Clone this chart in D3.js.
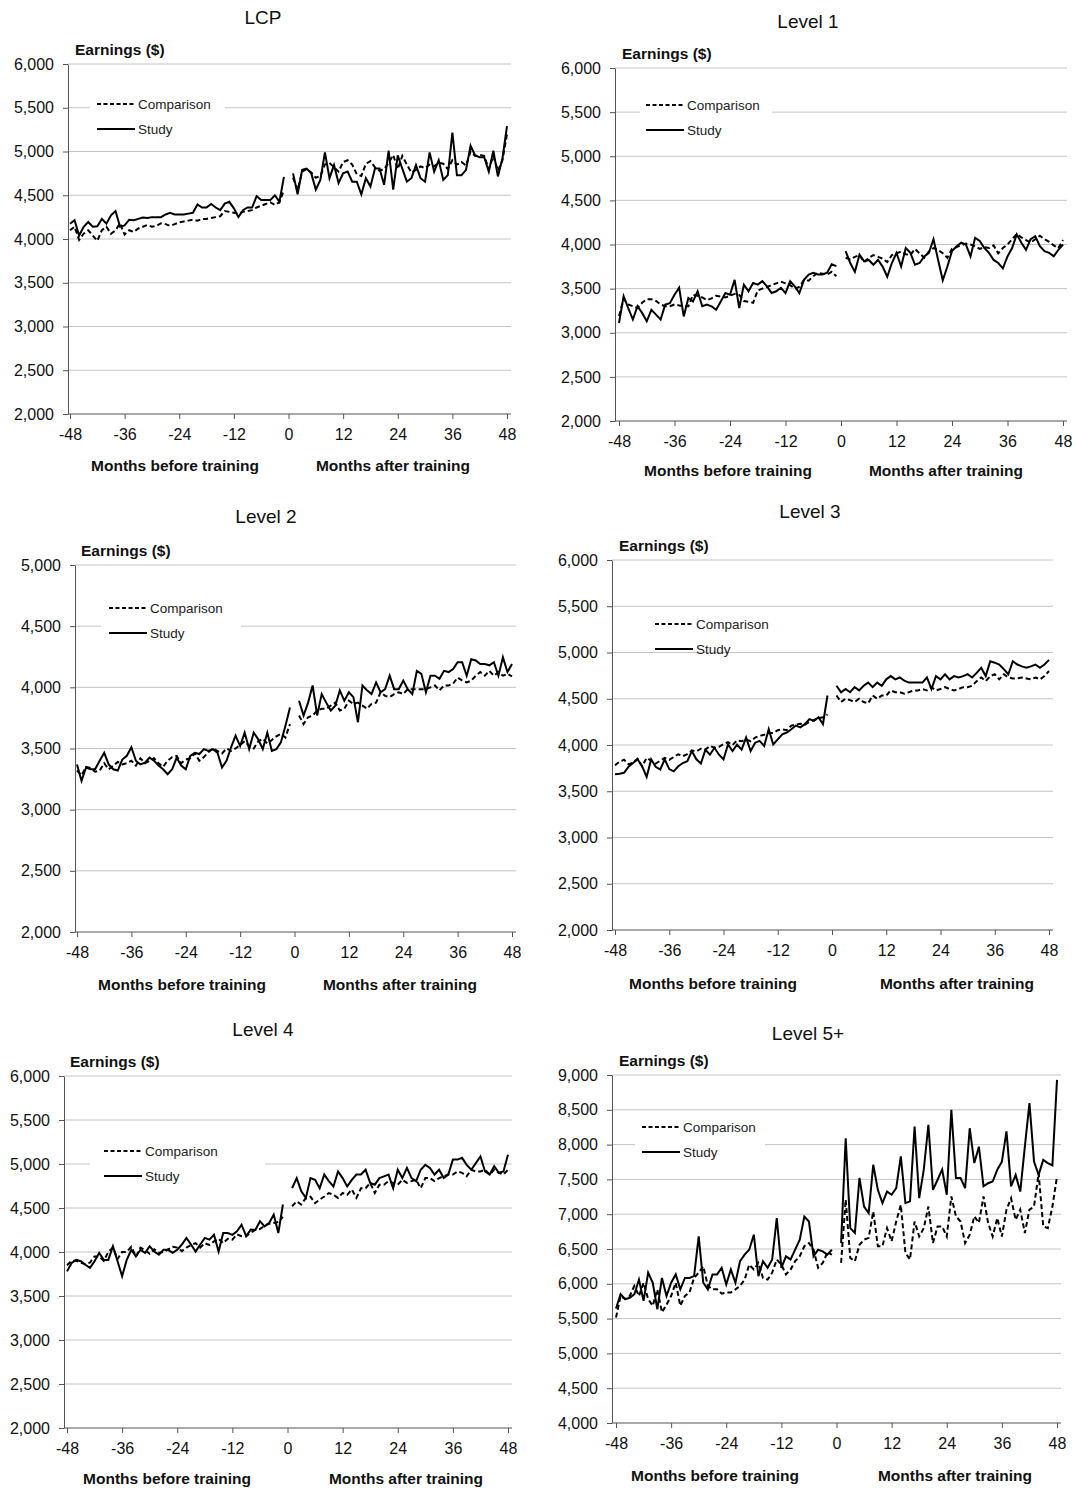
<!DOCTYPE html>
<html>
<head>
<meta charset="utf-8">
<script src="https://cdn.jsdelivr.net/npm/d3@7"></script>
<style>
  body { margin: 0; background: #fff; }
  svg { display: block; font-family: "Liberation Sans", Arial, sans-serif; }
</style>
</head>
<body>
<svg id="chart" width="1078" height="1490"></svg>
<script>
// months on the x axis (gap at 0 = training)
const PRE_MONTHS = [-48,-47,-46,-45,-44,-43,-42,-41,-40,-39,-38,-37,-36,-35,-34,-33,-32,-31,-30,-29,-28,-27,-26,-25,
  -24,-23,-22,-21,-20,-19,-18,-17,-16,-15,-14,-13,-12,-11,-10,-9,-8,-7,-6,-5,-4,-3,-2,-1]
const POST_MONTHS = [1,2,3,4,5,6,7,8,9,10,11,12,13,14,15,16,17,18,19,20,21,22,23,24,
  25,26,27,28,29,30,31,32,33,34,35,36,37,38,39,40,41,42,43,44,45,46,47,48]
const X_TICKS = [-48, -36, -24, -12, 0, 12, 24, 36, 48]
const Y_TICKS_6000 = [2000, 2500, 3000, 3500, 4000, 4500, 5000, 5500, 6000]
const Y_TICKS_5000 = [2000, 2500, 3000, 3500, 4000, 4500, 5000]
const Y_TICKS_9000 = [4000, 4500, 5000, 5500, 6000, 6500, 7000, 7500, 8000, 8500, 9000]

// LCP
const lcpStudyPre = [4175,4215,4040,4140,4195,4140,4145,4230,4175,4270,4320,4140,4155,4220,4215,4230,4245,4240,4250,4250,4250,4280,4300,4280,
  4280,4280,4290,4300,4395,4360,4360,4400,4360,4330,4405,4425,4350,4250,4330,4360,4360,4490,4445,4445,4445,4500,4425,4710]
const lcpCompPre = [4100,4140,3990,4060,4100,4040,3980,4100,4140,4060,4100,4180,4050,4100,4080,4120,4140,4160,4140,4150,4180,4170,4150,4170,
  4190,4200,4210,4220,4210,4230,4230,4240,4250,4260,4320,4310,4300,4290,4310,4320,4330,4360,4380,4400,4420,4390,4420,4560]
const lcpStudyPost = [4750,4510,4790,4805,4750,4565,4675,4990,4695,4845,4640,4750,4770,4655,4655,4510,4695,4600,4805,4805,4620,5010,4565,4955,
  4805,4655,4695,4845,4695,4655,4990,4770,4900,4675,4730,5215,4730,4730,4790,5065,4955,4935,4935,4770,5010,4715,4920,5290]
const lcpCompPost = [4700,4560,4770,4800,4760,4700,4720,4850,4870,4820,4770,4880,4900,4850,4740,4720,4860,4890,4820,4780,4800,4870,4960,4800,
  4950,4850,4760,4790,4830,4810,4850,4830,4870,4860,4800,4900,4850,4880,4840,5000,4950,4960,4950,4800,4950,4780,4900,5200]

// Level 1
const l1StudyPre = [3110,3415,3280,3150,3300,3225,3130,3260,3205,3150,3320,3335,3430,3510,3185,3395,3355,3470,3300,3320,3300,3260,3355,3450,
  3430,3600,3280,3545,3470,3565,3545,3585,3525,3450,3470,3510,3450,3585,3525,3450,3600,3660,3680,3660,3660,3680,3775,3755]
const l1CompPre = [3190,3380,3320,3300,3280,3340,3380,3380,3360,3320,3300,3300,3320,3310,3300,3300,3430,3420,3400,3370,3390,3420,3410,3400,
  3420,3440,3430,3360,3350,3340,3480,3500,3520,3540,3560,3580,3560,3540,3500,3520,3600,3590,3640,3680,3670,3660,3690,3640]
const l1StudyPost = [3925,3790,3690,3885,3810,3825,3770,3825,3750,3635,3790,3905,3750,3960,3905,3770,3790,3865,3905,4060,3825,3595,3750,3925,
  3980,4020,4000,3865,4075,4040,3960,3905,3825,3790,3730,3865,3960,4115,4020,3940,4060,4095,3980,3925,3905,3865,3940,4000]
const l1CompPost = [3850,3830,3860,3880,3800,3850,3880,3860,3840,3800,3880,3900,3920,3890,3880,3950,3900,3850,3920,3960,3940,3900,3850,3950,
  3970,3990,4010,4000,3980,3950,3970,3960,3990,3900,3960,4000,4060,4120,4080,4050,4020,4060,4100,4060,4030,3990,3960,4050]

// Level 2
const l2StudyPre = [3370,3235,3345,3330,3330,3400,3465,3370,3330,3320,3410,3440,3510,3400,3370,3385,3425,3400,3360,3330,3290,3330,3425,3360,
  3330,3440,3465,3455,3495,3480,3495,3465,3345,3400,3510,3605,3520,3630,3495,3630,3575,3495,3630,3480,3495,3550,3685,3835]
const l2CompPre = [3320,3280,3350,3340,3310,3320,3380,3330,3360,3390,3370,3380,3400,3360,3420,3380,3400,3420,3380,3350,3400,3430,3440,3380,
  3410,3420,3460,3400,3430,3470,3500,3480,3460,3500,3480,3500,3530,3560,3520,3500,3560,3580,3540,3570,3600,3620,3590,3700]
const l2StudyPost = [3890,3770,3875,4015,3770,3945,3875,3810,3850,3975,3890,3960,3920,3715,4015,3975,3945,4040,3960,3985,4095,3985,3985,4055,
  3985,3945,4135,4110,3960,4095,4095,4070,4135,4125,4150,4205,4205,4095,4230,4220,4190,4190,4180,4205,4095,4245,4125,4190]
const l2CompPost = [3770,3700,3755,3770,3810,3825,3825,3850,3875,3810,3825,3890,3865,3875,3850,3825,3865,3875,3960,3930,3920,3945,3960,3945,
  3985,3985,3985,3985,3985,4000,4015,3975,4015,4015,4030,4080,4055,4040,4055,4095,4125,4095,4135,4095,4125,4095,4110,4090]

// Level 3
const l3StudyPre = [3685,3690,3700,3765,3805,3845,3770,3655,3845,3765,3735,3845,3740,3715,3770,3805,3825,3935,3845,3800,3950,3895,3970,3895,
  3845,4005,3935,4005,3950,4080,3935,4025,4045,3990,4170,4005,4060,4115,4135,4170,4210,4190,4225,4280,4260,4300,4225,4535]
const l3CompPre = [3780,3820,3840,3790,3810,3850,3770,3860,3830,3800,3830,3860,3840,3870,3900,3880,3900,3940,3930,3960,3950,3990,3970,3980,
  4010,4030,4000,4050,4040,4060,4040,4080,4100,4110,4130,4130,4160,4170,4160,4210,4220,4230,4220,4250,4270,4290,4300,4330]
const l3StudyPost = [4640,4570,4605,4570,4625,4590,4640,4675,4625,4675,4640,4710,4745,4710,4730,4695,4675,4675,4675,4675,4730,4605,4745,4710,
  4765,4710,4745,4730,4745,4765,4730,4780,4835,4745,4905,4890,4870,4820,4765,4905,4870,4850,4835,4850,4870,4835,4870,4920]
const l3CompPost = [4535,4465,4500,4485,4465,4500,4465,4450,4535,4500,4535,4535,4590,4570,4570,4555,4570,4590,4590,4605,4590,4625,4590,4605,
  4625,4605,4590,4605,4625,4625,4640,4690,4730,4690,4745,4765,4710,4765,4730,4720,4720,4730,4720,4710,4730,4710,4745,4800]

// Level 4
const l4StudyPre = [3780,3875,3910,3895,3855,3820,3895,3990,3910,3910,4065,3895,3725,3910,4025,3950,4025,3990,4065,4005,3970,4025,4025,3990,
  4025,4085,4160,4085,4005,4085,4160,4140,4195,4005,4215,4215,4195,4235,4310,4180,4255,4250,4350,4290,4330,4425,4215,4540]
const l4CompPre = [3850,3900,3900,3880,3860,3880,3950,3950,3900,4000,4050,3920,4000,4000,4060,3950,4050,4020,3980,4030,3990,4000,4030,4060,
  4050,4010,4050,4080,4100,4050,4100,4080,4120,4150,4100,4150,4140,4200,4180,4180,4220,4250,4260,4300,4320,4330,4340,4400]
const l4StudyPost = [4725,4840,4690,4615,4840,4820,4725,4880,4805,4745,4915,4840,4745,4820,4880,4880,4935,4785,4765,4840,4860,4880,4725,4935,
  4840,4955,4840,4805,4935,4990,4955,4880,4935,4840,4880,5050,5050,5070,4990,4935,5010,5085,4915,4880,4975,4900,4915,5105]
const l4CompPost = [4520,4575,4540,4615,4630,4555,4595,4630,4670,4650,4615,4670,4650,4710,4615,4725,4725,4785,4670,4765,4765,4805,4785,4765,
  4820,4785,4805,4820,4725,4840,4840,4805,4840,4860,4880,4880,4915,4900,4860,4935,4915,4915,4935,4880,4935,4900,4880,4935]

// Level 5+
const l5StudyPre = [5645,5850,5780,5800,5850,6060,5755,6160,6015,5635,6085,5825,6015,6135,5920,6085,6085,6110,6680,6015,5920,6135,6135,6230,
  5990,6205,6015,6325,6420,6490,6705,6110,6325,6230,6350,6945,6230,6395,6350,6490,6635,6965,6895,6395,6490,6465,6420,6490]
const l5CompPre = [5515,5825,5780,5825,5970,5825,6015,5780,5685,5920,5590,5700,5825,6015,5685,5825,5875,6085,6160,6250,5970,5920,5920,5860,
  5875,5875,5920,5970,6060,6275,6205,6300,6085,6060,6160,6350,6275,6135,6205,6325,6395,6540,6585,6490,6230,6300,6445,6420]
const l5StudyPost = [6585,8090,6800,6730,7520,7110,7015,7710,7350,7160,7325,7280,7375,7830,7160,7185,8260,7230,7640,8285,7350,7495,7640,7280,
  8500,7520,7520,7375,8235,7735,7970,7400,7445,7470,7640,7755,8190,7400,7565,7325,7970,8595,7755,7565,7780,7735,7700,8930]
const l5CompPost = [6300,7210,6370,6325,6560,6635,6660,7040,6540,6540,6800,6610,6895,7135,6445,6350,6895,6680,6800,7110,6585,6825,6825,6680,
  7255,6970,6895,6585,6705,6970,6875,7255,6875,6680,6945,6680,7065,7230,6920,7065,6730,7065,7110,7590,6825,6800,7110,7540]

const panels = [
  { title: 'LCP', yTicks: Y_TICKS_6000, comp: [lcpCompPre, lcpCompPost], study: [lcpStudyPre, lcpStudyPost],
    axisX: 68, x0: 70, x1: 507, right: 511, top: 64, bottom: 414,
    titleX: 263, titleY: 24, earnX: 75, earnY: 55, legX: 97, legY: 104, legGap: 90, legW: 135,
    xlabY: 471, beforeX: 175, afterX: 393 },
  { title: 'Level 1', yTicks: Y_TICKS_6000, comp: [l1CompPre, l1CompPost], study: [l1StudyPre, l1StudyPost],
    axisX: 615, x0: 619, x1: 1063, right: 1067, top: 68, bottom: 421,
    titleX: 808, titleY: 28, earnX: 622, earnY: 59, legX: 646, legY: 105, legGap: 640, legW: 132,
    xlabY: 476, beforeX: 728, afterX: 946 },
  { title: 'Level 2', yTicks: Y_TICKS_5000, comp: [l2CompPre, l2CompPost], study: [l2StudyPre, l2StudyPost],
    axisX: 75, x0: 77, x1: 512, right: 516, top: 565, bottom: 932,
    titleX: 266, titleY: 523, earnX: 81, earnY: 556, legX: 109, legY: 608, legGap: 101, legW: 140,
    xlabY: 990, beforeX: 182, afterX: 400 },
  { title: 'Level 3', yTicks: Y_TICKS_6000, comp: [l3CompPre, l3CompPost], study: [l3StudyPre, l3StudyPost],
    axisX: 612, x0: 615, x1: 1049, right: 1053, top: 560, bottom: 930,
    titleX: 810, titleY: 518, earnX: 619, earnY: 551, legX: 655, legY: 624, legGap: 646, legW: 140,
    xlabY: 989, beforeX: 713, afterX: 957 },
  { title: 'Level 4', yTicks: Y_TICKS_6000, comp: [l4CompPre, l4CompPost], study: [l4StudyPre, l4StudyPost],
    axisX: 64, x0: 67, x1: 508, right: 512, top: 1076, bottom: 1428,
    titleX: 263, titleY: 1036, earnX: 70, earnY: 1067, legX: 104, legY: 1151, legGap: 90, legW: 175,
    xlabY: 1484, beforeX: 167, afterX: 406 },
  { title: 'Level 5+', yTicks: Y_TICKS_9000, comp: [l5CompPre, l5CompPost], study: [l5StudyPre, l5StudyPost],
    axisX: 612, x0: 616, x1: 1057, right: 1061, top: 1075, bottom: 1423,
    titleX: 808, titleY: 1040, earnX: 619, earnY: 1066, legX: 642, legY: 1127, legGap: 635, legW: 130,
    xlabY: 1481, beforeX: 715, afterX: 955 }
]

const svg = d3.select('#chart')

panels.forEach(p => {
  const g = svg.append('g')
  const x = d3.scaleLinear().domain([-48, 48]).range([p.x0, p.x1])
  const y = d3.scaleLinear()
    .domain([p.yTicks[0], p.yTicks[p.yTicks.length - 1]])
    .range([p.bottom, p.top])

  // gridlines
  g.append('g').selectAll('line')
    .data(p.yTicks.slice(1))
    .enter().append('line')
    .attr('x1', p.axisX).attr('x2', p.right)
    .attr('y1', d => y(d)).attr('y2', d => y(d))
    .attr('stroke', '#c4c4c4').attr('stroke-width', 1)

  // y axis
  const yAxis = g.append('g')
    .attr('transform', `translate(${p.axisX},0)`)
    .call(d3.axisLeft(y).tickValues(p.yTicks).tickFormat(d3.format(',')).tickSize(5).tickPadding(9).tickSizeOuter(0))
  yAxis.select('.domain').attr('stroke', '#555')
  yAxis.selectAll('.tick line').attr('stroke', '#555')
  yAxis.selectAll('text').attr('font-size', 16).attr('fill', '#111')
    .attr('font-family', '"Liberation Sans", Arial, sans-serif')

  // x axis
  const xAxis = g.append('g')
    .attr('transform', `translate(0,${p.bottom})`)
    .call(d3.axisBottom(x).tickValues(X_TICKS).tickFormat(d => String(d)).tickSize(5).tickPadding(10))
  xAxis.select('.domain').remove()
  xAxis.selectAll('.tick line').attr('stroke', '#555')
  xAxis.selectAll('text').attr('font-size', 16).attr('fill', '#111')
    .attr('font-family', '"Liberation Sans", Arial, sans-serif')
  g.append('line')
    .attr('x1', p.axisX).attr('x2', p.right)
    .attr('y1', p.bottom).attr('y2', p.bottom)
    .attr('stroke', '#555')

  // series lines
  const line = d3.line().x(d => x(d[0])).y(d => y(d[1]))
  const months = [PRE_MONTHS, POST_MONTHS]
  ;[0, 1].forEach(k => {
    g.append('path')
      .datum(months[k].map((m, i) => [m, p.comp[k][i]]))
      .attr('fill', 'none').attr('stroke', '#000').attr('stroke-width', 2)
      .attr('stroke-dasharray', '5,3')
      .attr('d', line)
    g.append('path')
      .datum(months[k].map((m, i) => [m, p.study[k][i]]))
      .attr('fill', 'none').attr('stroke', '#000').attr('stroke-width', 2)
      .attr('d', line)
  })

  // legend
  const leg = g.append('g')
  leg.append('rect')
    .attr('x', p.legGap).attr('y', p.legY - 12)
    .attr('width', p.legW).attr('height', 40)
    .attr('fill', '#fff')
  const items = [{ name: 'Comparison', dash: '4,2.5' }, { name: 'Study', dash: null }]
  items.forEach((it, i) => {
    const yy = p.legY + i * 25
    leg.append('line')
      .attr('x1', p.legX).attr('x2', p.legX + 38)
      .attr('y1', yy).attr('y2', yy)
      .attr('stroke', '#000').attr('stroke-width', 2)
      .attr('stroke-dasharray', it.dash)
    leg.append('text')
      .attr('x', p.legX + 41).attr('y', yy + 5)
      .attr('font-size', 13.5).attr('fill', '#222')
      .text(it.name)
  })

  // titles and labels
  g.append('text')
    .attr('x', p.titleX).attr('y', p.titleY)
    .attr('text-anchor', 'middle').attr('font-size', 19).attr('fill', '#111')
    .text(p.title)
  g.append('text')
    .attr('x', p.earnX).attr('y', p.earnY)
    .attr('font-size', 15.5).attr('font-weight', 'bold').attr('fill', '#111')
    .text('Earnings ($)')
  g.append('text')
    .attr('x', p.beforeX).attr('y', p.xlabY)
    .attr('text-anchor', 'middle').attr('font-size', 15.5).attr('font-weight', 'bold').attr('fill', '#111')
    .text('Months before training')
  g.append('text')
    .attr('x', p.afterX).attr('y', p.xlabY)
    .attr('text-anchor', 'middle').attr('font-size', 15.5).attr('font-weight', 'bold').attr('fill', '#111')
    .text('Months after training')
})
</script>
</body>
</html>
